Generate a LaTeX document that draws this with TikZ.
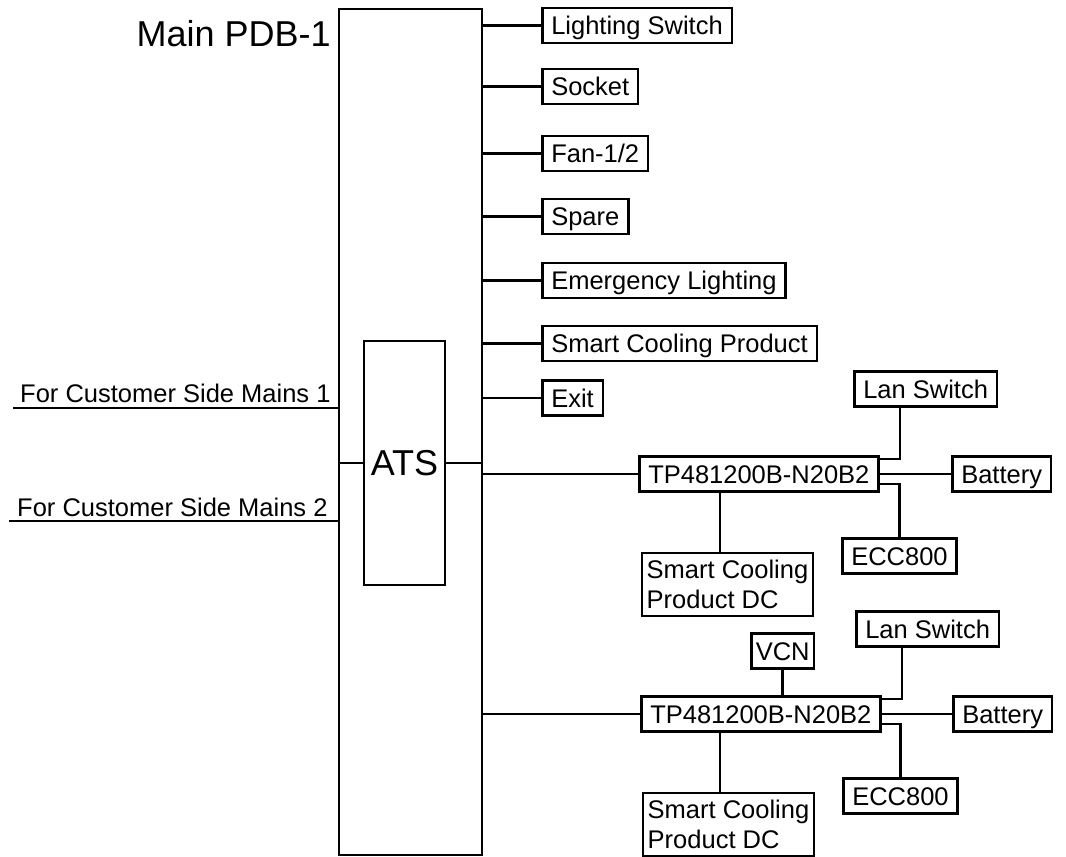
\documentclass[tikz,border=0pt]{standalone}
\usepackage{fontspec}
\setmainfont{Liberation Sans}
\newcommand{\lblfont}{\fontsize{25.5}{30}\selectfont}
\newcommand{\bigfont}{\fontsize{36}{40}\selectfont}
\begin{document}
\begin{tikzpicture}[x=1pt,y=-1pt,
    pdbBk/.style={rectangle,draw=black,line width=2.5pt,anchor=west,minimum height=35pt,inner xsep=9pt,inner ysep=0pt,text height=18.3pt,text depth=0pt,font=\lblfont},
    pdbDc/.style={rectangle,draw=black,line width=2.5pt,minimum width=171pt,minimum height=63pt,inner xsep=4.75pt,align=left,font=\lblfont},
    pdbTall/.style={rectangle,draw=black,line width=2.5pt,inner sep=0pt},
    pdbTxt/.style={inner sep=0pt,font=\lblfont},
    pdbLn/.style={line width=2.5pt},
]
\useasboundingbox (0,0) rectangle (1066,857);
\node[pdbTall,minimum width=143pt,minimum height=846pt] (PDB) at (410.5,432) {};
\node[pdbTall,minimum width=81pt,minimum height=244pt,font=\bigfont] (ATS) at (404.5,463) {ATS};
\node[inner sep=0pt,font=\bigfont,anchor=base east] (title) at (331,46) {Main PDB-1};
\node[pdbBk] (ls) at (541,25.5) {Lighting Switch};
\node[pdbBk] (sk) at (541,86.5) {Socket};
\node[pdbBk] (fn) at (541,153.5) {Fan-1/2};
\node[pdbBk] (sp) at (541,216.5) {Spare};
\node[pdbBk] (el) at (541,280.5) {Emergency Lighting};
\node[pdbBk] (sc) at (541,343.5) {Smart Cooling Product};
\node[pdbBk] (ex) at (541,398) {Exit};
\foreach \n in {ls,sk,fn,sp,el,sc,ex}
    \draw[pdbLn] (PDB.east |- \n.west) -- (\n.west);
% Mains inputs
\coordinate (m1) at (13,408);
\coordinate (m2) at (9,521);
\node[pdbTxt,anchor=base west] (m1t) at (20,402) {For Customer Side Mains 1};
\node[pdbTxt,anchor=base west] (m2t) at (17,516) {For Customer Side Mains 2};
\draw[pdbLn] (m1) -- (m1 -| PDB.west);
\draw[pdbLn] (m2) -- (m2 -| PDB.west);
\draw[pdbLn] (PDB.west |- ATS.west) -- (ATS.west);
\draw[pdbLn] (ATS.east) -- (PDB.east |- ATS.east);
% Rectifier 1
\node[pdbBk] (TP1) at (638,474) {TP481200B-N20B2};
\node[pdbBk] (lan1) at (853,389) {Lan Switch};
\node[pdbBk] (bat1) at (951,474) {Battery};
\node[pdbBk] (ecc1) at (841,556) {ECC800};
\node[pdbDc] (dc1) at (727.5,584.5) {Smart Cooling\\Product DC};
\draw[pdbLn] (PDB.east |- TP1.west) -- (TP1.west);
\draw[pdbLn] ([yshift=15pt]TP1.east) -| ([xshift=-25.5pt]lan1.south);
\draw[pdbLn] (TP1.east) -- (bat1.west);
\draw[pdbLn] ([yshift=-10pt]TP1.east) -| (ecc1.north);
\coordinate (dc1top) at ([xshift=-7.5pt]dc1.north);
\draw[pdbLn] (dc1top) -- (dc1top |- TP1.south);
% Rectifier 2
\node[pdbBk] (TP2) at (640,714) {TP481200B-N20B2};
\node[pdbBk,inner xsep=4.5pt] (vcn) at (750,651) {VCN};
\node[pdbBk] (lan2) at (855,629) {Lan Switch};
\node[pdbBk] (bat2) at (952,714) {Battery};
\node[pdbBk] (ecc2) at (842,796) {ECC800};
\node[pdbDc] (dc2) at (728.5,824.5) {Smart Cooling\\Product DC};
\draw[pdbLn] (PDB.east |- TP2.west) -- (TP2.west);
\draw[pdbLn] (vcn.south) -- (vcn.south |- TP2.north);
\draw[pdbLn] ([yshift=15pt]TP2.east) -| ([xshift=-25.5pt]lan2.south);
\draw[pdbLn] (TP2.east) -- (bat2.west);
\draw[pdbLn] ([yshift=-10pt]TP2.east) -| (ecc2.north);
\coordinate (dc2top) at ([xshift=-8.5pt]dc2.north);
\draw[pdbLn] (dc2top) -- (dc2top |- TP2.south);
\end{tikzpicture}
\end{document}
